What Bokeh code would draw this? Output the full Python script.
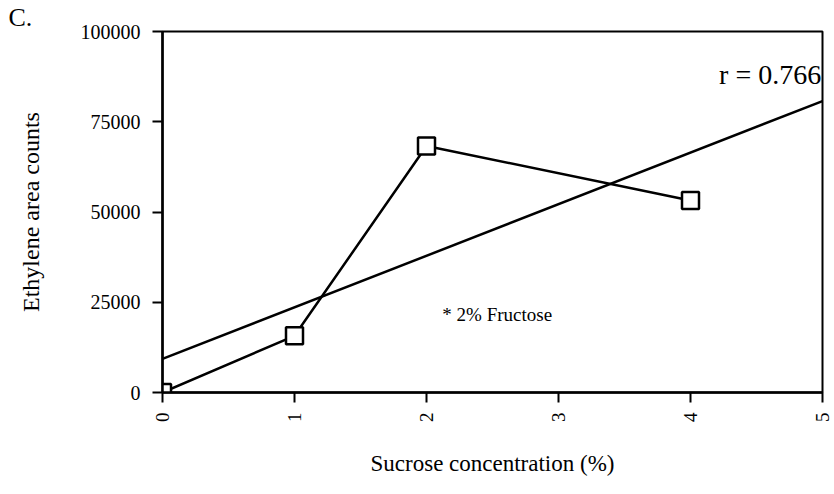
import math
import numpy as np
from bokeh.plotting import figure
from bokeh.models import Range1d, FixedTicker, Label, BasicTickFormatter
from bokeh.embed import file_html
from bokeh.resources import INLINE

# Data
sucrose_pct = [0, 1, 2, 4]
ethylene_counts = [0, 15700, 68300, 53200]
x_ticks = [0, 1, 2, 3, 4, 5]
y_ticks = [0, 25000, 50000, 75000, 100000]
fit_x = [0, 5]
r_text = "r = 0.766"
note_text = "* 2% Fructose"
panel_text = "C."

slope, intercept = np.polyfit(sucrose_pct, ethylene_counts, 1)
fit_y = [intercept + slope * x for x in fit_x]

FONT = "Liberation Serif"

p = figure(width=834, height=490, x_range=Range1d(0, 5), y_range=Range1d(0, 100000),
           output_backend="svg", toolbar_location=None,
           min_border_left=162, min_border_top=28, min_border_right=12, min_border_bottom=98)
p.background_fill_color = "white"
p.border_fill_color = "white"
p.xgrid.visible = False
p.ygrid.visible = False
p.outline_line_color = "black"
p.outline_line_width = 2

p.title.text = panel_text
p.title.align = "left"
p.title.offset = -154
p.title.standoff = 0
p.title.text_font = FONT
p.title.text_font_size = "26px"
p.title.text_font_style = "normal"
p.title.text_color = "black"

for ax in (p.xaxis[0], p.yaxis[0]):
    ax.axis_line_width = 2.5
    ax.axis_line_color = "black"
    ax.major_tick_line_width = 2
    ax.major_tick_line_color = "black"
    ax.major_tick_in = 0
    ax.minor_tick_line_color = None
    ax.major_label_text_font = FONT
    ax.major_label_text_color = "black"
    ax.axis_label_text_font = FONT
    ax.axis_label_text_font_style = "normal"
    ax.axis_label_text_color = "black"

p.xaxis.ticker = FixedTicker(ticks=x_ticks)
p.xaxis.major_tick_out = 10
p.xaxis.major_label_orientation = math.pi / 2
p.xaxis.major_label_text_font_size = "19px"
p.xaxis.major_label_standoff = 10
p.xaxis.axis_label = "Sucrose concentration (%)"
p.xaxis.axis_label_text_font_size = "23px"
p.xaxis.axis_label_standoff = 26

p.yaxis.ticker = FixedTicker(ticks=y_ticks)
p.yaxis.formatter = BasicTickFormatter(use_scientific=False)
p.yaxis.major_tick_out = 10
p.yaxis.major_label_text_font_size = "20px"
p.yaxis.major_label_standoff = 12
p.yaxis.axis_label = "Ethylene area counts"
p.yaxis.axis_label_text_font_size = "24px"
p.yaxis.axis_label_standoff = 34

# regression line
p.line(fit_x, fit_y, line_color="black", line_width=2.5)
# data line and markers
p.line(sucrose_pct, ethylene_counts, line_color="black", line_width=2.5)
p.scatter(sucrose_pct, ethylene_counts, marker="square", size=17,
          fill_color="white", line_color="black", line_width=2.5)

p.add_layout(Label(x=4.99, y=88000, text=r_text, text_align="right", text_baseline="alphabetic",
                   text_font=FONT, text_font_size="28px", text_color="black"))
p.add_layout(Label(x=2.12, y=21500, text=note_text, text_align="left", text_baseline="alphabetic",
                   text_font=FONT, text_font_size="19px", text_color="black"))

open("out.html", "w").write(file_html(p, INLINE))
